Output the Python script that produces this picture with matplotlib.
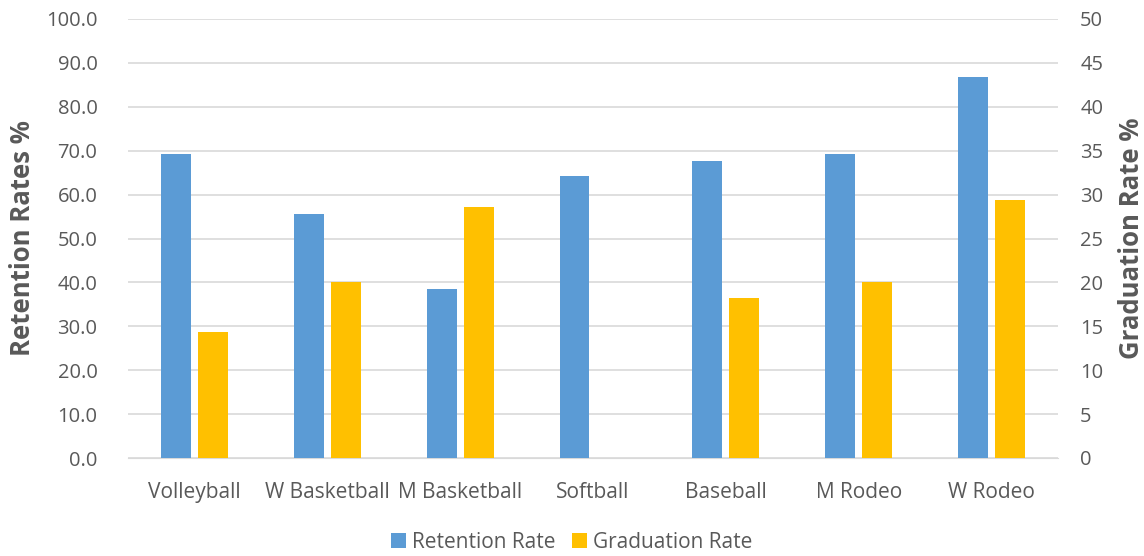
import numpy as np
import matplotlib.pyplot as plt

# data
sports = ["Volleyball", "W Basketball", "M Basketball", "Softball",
          "Baseball", "M Rodeo", "W Rodeo"]
retention = [69.2, 55.6, 38.5, 64.3, 67.7, 69.2, 86.7]
graduation = [14.3, 20.0, 28.6, np.nan, 18.2, 20.0, 29.4]

plt.rcParams['font.family'] = ['Open Sans', 'DejaVu Sans']
grey = "#595959"
blue = "#5B9BD5"
gold = "#FFC000"

fig = plt.figure(figsize=(11.44, 5.56), dpi=100)
ax = fig.add_axes([128 / 1144, 1 - 458 / 556, (1058 - 128) / 1144, (458 - 19) / 556])
ax2 = ax.twinx()

x = np.arange(len(sports))
w = 0.225
off = 0.139
ax.bar(x - off, retention, w, color=blue, label="Retention Rate", zorder=3)
ax2.bar(x + off, graduation, w, color=gold, label="Graduation Rate", zorder=3)

ax.set_xlim(-0.5, len(sports) - 0.5)
ax.set_ylim(0, 100)
ax2.set_ylim(0, 50)
ax.set_yticks(np.arange(0, 101, 10))
ax.set_yticklabels([f"{v:.1f}" for v in np.arange(0, 101, 10)])
ax2.set_yticks(np.arange(0, 51, 5))
ax.set_xticks(x)
ax.set_xticklabels(sports)

ax.grid(True, axis="y", color="#D9D9D9", linewidth=1.2, zorder=0)
ax.set_axisbelow(True)

for a in (ax, ax2):
    for s in a.spines.values():
        s.set_visible(False)
    a.tick_params(length=0, labelsize=14.5, colors=grey)
ax.spines["bottom"].set_visible(True)
ax.spines["bottom"].set_color("#D9D9D9")
ax.tick_params(axis="x", labelsize=15, pad=17)
ax.tick_params(axis="y", pad=22)
ax2.tick_params(axis="y", pad=16)

ax.set_ylabel("Retention Rates %", fontsize=18.5, fontweight="bold", color=grey)
ax2.set_ylabel("Graduation Rate %", fontsize=18.5, fontweight="bold", color=grey)
ax.yaxis.set_label_coords(-0.099, 0.5)
ax2.yaxis.set_label_coords(1.065, 0.5)

h1, l1 = ax.get_legend_handles_labels()
h2, l2 = ax2.get_legend_handles_labels()
fig.legend(h1 + h2, l1 + l2, loc="center", bbox_to_anchor=(0.5, 1 - 542 / 556),
           ncol=2, frameon=False, fontsize=15, labelcolor=grey,
           handlelength=0.7, handleheight=0.7, handletextpad=0.3, columnspacing=0.8)

fig.savefig("out.png", dpi=100)
